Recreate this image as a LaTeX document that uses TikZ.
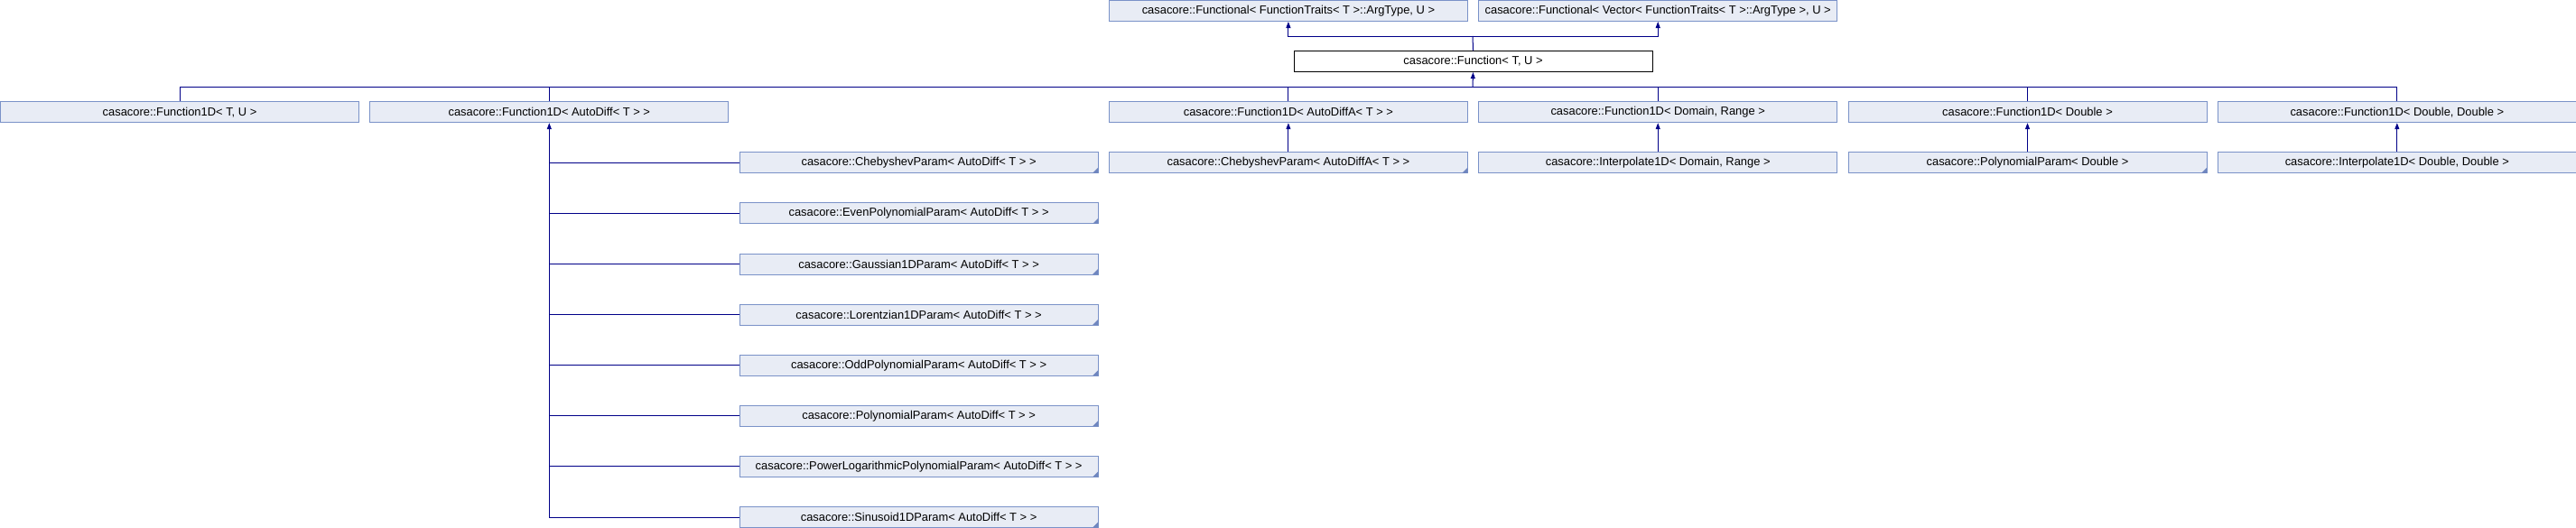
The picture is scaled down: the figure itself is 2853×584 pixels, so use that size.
\documentclass[tikz,border=0pt]{standalone}
\usepackage{fontspec}
\setmainfont{Liberation Sans}
\usetikzlibrary{arrows.meta}
\definecolor{boxfill}{HTML}{E8ECF5}
\definecolor{boxline}{HTML}{7A92C8}
\definecolor{connc}{HTML}{000088}
\definecolor{markc}{HTML}{6F86BF}
\begin{document}
\begin{tikzpicture}[x=1pt,y=-1pt,
  cls/.style={draw=boxline, fill=boxfill, line width=1pt, minimum width=397pt, minimum height=23pt,
    inner sep=0pt, anchor=north west, font=\fontsize{12.9}{14}\selectfont},
  cur/.style={cls, draw=black, fill=white},
  conn/.style={draw=connc, line width=1pt},
  inh/.style={conn, -{Triangle[length=7pt,width=5pt]}},
]
\useasboundingbox (0,0) rectangle (2853,584);
\fill[white] (0,0) rectangle (2853,584);
% row 0
\node[cls] (fa) at (1227.9,0) {casacore::Functional< FunctionTraits< T >::ArgType, U >};
\node[cls] (fb) at (1637.2,0) {casacore::Functional< Vector< FunctionTraits< T >::ArgType >, U >};
% row 1
\node[cur] (fn) at (1432.5,56.1) {casacore::Function< T, U >};
% row 2
\node[cls] (ga) at (0,112.2) {casacore::Function1D< T, U >};
\node[cls] (gb) at (409.3,112.2) {casacore::Function1D< AutoDiff< T > >};
\node[cls] (gc) at (1227.9,112.2) {casacore::Function1D< AutoDiffA< T > >};
\node[cls] (gd) at (1637.2,112.2) {casacore::Function1D< Domain, Range >};
\node[cls] (ge) at (2046.5,112.2) {casacore::Function1D< Double >};
\node[cls] (gf) at (2455.8,112.2) {casacore::Function1D< Double, Double >};
% row 3
\node[cls] (h2) at (818.6,168.3) {casacore::ChebyshevParam< AutoDiff< T > >};
\node[cls] (h3) at (1227.9,168.3) {casacore::ChebyshevParam< AutoDiffA< T > >};
\node[cls] (h4) at (1637.2,168.3) {casacore::Interpolate1D< Domain, Range >};
\node[cls] (h5) at (2046.5,168.3) {casacore::PolynomialParam< Double >};
\node[cls] (h6) at (2455.8,168.3) {casacore::Interpolate1D< Double, Double >};
% column 2 rows 4-10
\node[cls] (k4) at (818.6,224.4) {casacore::EvenPolynomialParam< AutoDiff< T > >};
\node[cls] (k5) at (818.6,280.5) {casacore::Gaussian1DParam< AutoDiff< T > >};
\node[cls] (k6) at (818.6,336.6) {casacore::Lorentzian1DParam< AutoDiff< T > >};
\node[cls] (k7) at (818.6,392.7) {casacore::OddPolynomialParam< AutoDiff< T > >};
\node[cls] (k8) at (818.6,448.8) {casacore::PolynomialParam< AutoDiff< T > >};
\node[cls] (k9) at (818.6,504.9) {casacore::PowerLogarithmicPolynomialParam< AutoDiff< T > >};
\node[cls] (k10) at (818.6,561) {casacore::Sinusoid1DParam< AutoDiff< T > >};
% corner marks
\foreach \n in {h2,h3,h5,k4,k5,k6,k7,k8,k9,k10}{
  \fill[markc] ([shift={(-0.5,-0.5)}]\n.south east) -- ++(-6,0) -- ++(6,-6) -- cycle;
}
% connectors top
\coordinate (jt) at (1631,40);
\coordinate (jb) at (1631,96);
\draw[conn] (fn.north) -- (jt);
\draw[inh] (jt) -| (fa.south);
\draw[inh] (jt) -| (fb.south);
\draw[inh] (jb) -- (fn.south);
\foreach \n in {ga,gb,gc,gd,ge,gf}{
  \draw[conn] (jb) -| (\n.north);
}
% row 3 straight connectors
\draw[inh] (h3.north) -- (gc.south);
\draw[inh] (h4.north) -- (gd.south);
\draw[inh] (h5.north) -- (ge.south);
\draw[inh] (h6.north) -- (gf.south);
% trunk of column 1
\coordinate (tb) at (gb.south |- k10.west);
\draw[inh] (tb) -- (gb.south);
\foreach \n in {h2,k4,k5,k6,k7,k8,k9,k10}{
  \draw[conn] (\n.west) -- (\n.west -| gb.south);
}
\end{tikzpicture}
\end{document}
